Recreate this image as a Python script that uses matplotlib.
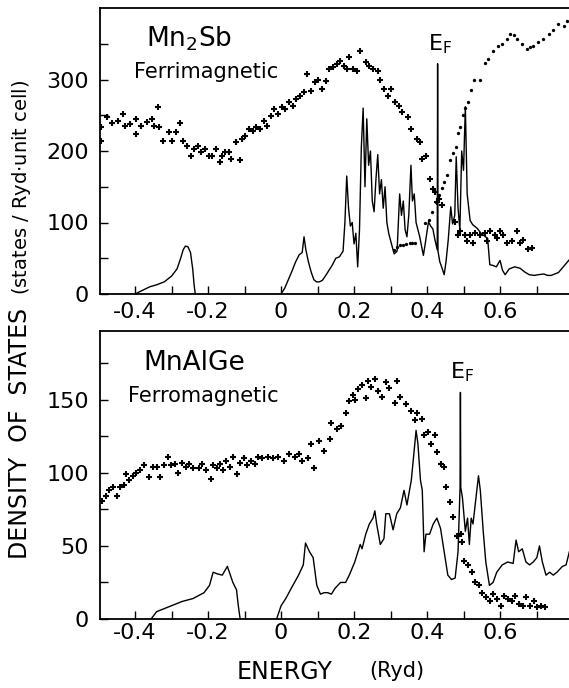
import numpy as np
import matplotlib
matplotlib.use('Agg')
import matplotlib.pyplot as plt

plt.rcParams['font.family'] = 'DejaVu Sans'
plt.rcParams['axes.unicode_minus'] = False

# ---- Mn2Sb (top panel) ----
mn2sb_line_a_x = [-0.40, -0.38, -0.36, -0.34, -0.32, -0.30, -0.285, -0.275, -0.268, -0.262,
                  -0.255, -0.248, -0.242, -0.238, -0.235]
mn2sb_line_a_y = [0, 5, 10, 13, 17, 25, 35, 50, 62, 67, 66, 58, 35, 12, 0]

mn2sb_line_b_x = [0.0, 0.01, 0.02, 0.03, 0.04, 0.05, 0.058, 0.063, 0.068, 0.075, 0.083, 0.09, 0.097,
                  0.105, 0.113, 0.12, 0.13, 0.14, 0.15, 0.16, 0.17, 0.175, 0.18, 0.185, 0.19, 0.195,
                  0.2, 0.205, 0.21, 0.215, 0.22, 0.225, 0.23, 0.235, 0.24, 0.245, 0.25, 0.255,
                  0.26, 0.265, 0.27, 0.275, 0.28, 0.285, 0.29, 0.295, 0.30, 0.31, 0.318, 0.325,
                  0.33, 0.335, 0.34, 0.345, 0.35, 0.356, 0.36, 0.365, 0.37, 0.375, 0.38, 0.39,
                  0.395, 0.404, 0.41, 0.416, 0.422, 0.428, 0.429, 0.430, 0.435, 0.44, 0.447,
                  0.452, 0.458, 0.465, 0.47, 0.476, 0.48, 0.485, 0.49, 0.495, 0.50, 0.505,
                  0.51, 0.518, 0.525, 0.537, 0.548, 0.56, 0.566, 0.572, 0.58, 0.59, 0.60, 0.607,
                  0.614, 0.625, 0.64, 0.655, 0.667, 0.68, 0.694, 0.705, 0.72, 0.73, 0.74, 0.75,
                  0.76, 0.77, 0.78, 0.79]
mn2sb_line_b_y = [0, 8, 20, 32, 45, 55, 58, 80, 62, 45, 30, 20, 17, 17, 19, 24, 32, 40, 50, 52,
                  60, 100, 165, 120, 95, 100, 70, 85, 38, 90, 205, 260, 150, 245, 180, 200, 130,
                  115, 160, 195, 140, 160, 120, 150, 100, 85, 75, 56, 60, 140, 110, 130, 90, 80,
                  110, 180, 130, 140, 100, 90, 80, 54, 70, 101, 95, 91, 75, 62, 322, 60, 45,
                  38, 27, 45, 75, 122, 98, 110, 192, 120, 90, 200, 173, 262, 140, 103, 97, 92,
                  85, 80, 78, 41, 40, 38, 47, 33, 27, 35, 38, 36, 31, 27, 26, 27, 28, 26, 26, 28,
                  30, 36, 42, 48]

mn2sb_cross_x = [-0.493, -0.493, -0.478, -0.463, -0.448, -0.433, -0.428, -0.413, -0.398, -0.398,
                 -0.383, -0.368, -0.353, -0.348, -0.338, -0.333, -0.323, -0.308, -0.298, -0.288,
                 -0.278, -0.268, -0.258, -0.248, -0.238, -0.228, -0.218, -0.208, -0.198, -0.188,
                 -0.178, -0.168, -0.163, -0.153, -0.143, -0.138, -0.123, -0.113, -0.108, -0.098,
                 -0.088, -0.078, -0.068, -0.058, -0.048, -0.038, -0.028, -0.018, -0.008, 0.002,
                 0.012, 0.022, 0.032, 0.042, 0.052, 0.062, 0.072, 0.082, 0.092, 0.102, 0.112,
                 0.122, 0.132, 0.142, 0.152, 0.162, 0.172, 0.182, 0.187, 0.197, 0.207, 0.217,
                 0.232, 0.242, 0.252, 0.267, 0.272, 0.282, 0.292, 0.302, 0.312, 0.322, 0.332,
                 0.347, 0.357, 0.372, 0.382, 0.387, 0.397, 0.407, 0.417, 0.422, 0.427, 0.432,
                 0.442, 0.477, 0.486, 0.49, 0.504, 0.509, 0.518, 0.527, 0.532, 0.545, 0.559,
                 0.563, 0.573, 0.586, 0.591, 0.60, 0.609, 0.618, 0.632, 0.646, 0.655, 0.664,
                 0.678, 0.687]
mn2sb_cross_y = [233, 214, 247, 239, 242, 252, 235, 238, 245, 224, 235, 240, 245, 235, 262, 233,
                 214, 226, 214, 226, 239, 214, 207, 193, 203, 207, 198, 203, 193, 193, 203, 184,
                 193, 198, 198, 189, 212, 188, 217, 221, 231, 228, 233, 231, 242, 235, 249, 259,
                 252, 261, 259, 268, 263, 273, 277, 282, 307, 284, 296, 300, 287, 298, 314, 317,
                 321, 326, 319, 314, 331, 314, 312, 340, 324, 319, 314, 312, 300, 287, 277, 287,
                 268, 263, 254, 247, 231, 217, 212, 189, 193, 161, 147, 142, 128, 133, 124,
                 101, 83, 88, 83, 74, 83, 72, 85, 83, 85, 74, 88, 83, 79, 88, 83, 72, 74, 88,
                 72, 76, 63, 65]

mn2sb_dot_x = [0.31, 0.317, 0.326, 0.335, 0.343, 0.352, 0.36, 0.368, 0.395, 0.406, 0.415, 0.424,
               0.433, 0.44, 0.447, 0.456, 0.463, 0.47, 0.48, 0.484, 0.491, 0.498, 0.504, 0.511,
               0.52, 0.53, 0.544, 0.559, 0.568, 0.582, 0.595, 0.605, 0.618, 0.628, 0.637, 0.646,
               0.66, 0.673, 0.682, 0.691, 0.705, 0.719, 0.733, 0.746, 0.76, 0.774, 0.783]
mn2sb_dot_y = [62, 66, 68, 68, 70, 71, 72, 72, 100, 103, 115, 129, 138, 148, 157, 166, 187, 197,
               206, 225, 234, 250, 260, 269, 286, 300, 300, 323, 328, 340, 347, 350, 357, 364,
               362, 357, 350, 343, 345, 347, 352, 357, 364, 369, 378, 375, 382]

# ---- MnAlGe (bottom panel) ----
mnalge_line_a_x = [-0.356, -0.341, -0.311, -0.271, -0.241, -0.211, -0.196, -0.186, -0.176,
                   -0.161, -0.147, -0.132, -0.122, -0.117, -0.112]
mnalge_line_a_y = [0, 5, 8, 12, 14, 18, 23, 32, 31, 30, 36, 25, 20, 9, 0]

mnalge_line_b_x = [-0.012, 0.0, 0.013, 0.028, 0.048, 0.061, 0.067, 0.078, 0.088, 0.098, 0.108,
                   0.118, 0.128, 0.138, 0.148, 0.163, 0.177, 0.187, 0.202, 0.217, 0.222, 0.232,
                   0.242, 0.252, 0.257, 0.262, 0.272, 0.282, 0.287, 0.297, 0.307, 0.317, 0.327,
                   0.337, 0.345, 0.352, 0.357, 0.362, 0.37, 0.375, 0.382, 0.387, 0.392, 0.397,
                   0.407, 0.417, 0.427, 0.437, 0.447, 0.457, 0.467, 0.477, 0.485, 0.4905, 0.4915,
                   0.4925, 0.497, 0.505, 0.511, 0.516, 0.521, 0.526, 0.531, 0.541, 0.546, 0.554,
                   0.561, 0.571, 0.581, 0.591, 0.606, 0.621, 0.636, 0.644, 0.651, 0.661, 0.671,
                   0.681, 0.691, 0.701, 0.708, 0.716, 0.726, 0.736, 0.746, 0.756, 0.771, 0.781,
                   0.79]
mnalge_line_b_y = [0, 9, 14, 21, 30, 37, 52, 46, 42, 23, 17, 18, 18, 17, 21, 25, 25, 30, 39, 51,
                   48, 58, 65, 69, 74, 65, 51, 55, 72, 72, 61, 72, 76, 88, 78, 88, 95, 108, 129,
                   120, 95, 88, 46, 58, 58, 65, 69, 62, 46, 30, 27, 28, 46, 90, 155, 90, 83, 60,
                   69, 51, 69, 65, 76, 98, 88, 60, 39, 23, 25, 32, 37, 39, 38, 54, 46, 48, 39, 37,
                   39, 42, 50, 39, 30, 32, 30, 32, 36, 37, 46]

mnalge_cross_x = [-0.49, -0.48, -0.47, -0.46, -0.45, -0.44, -0.43, -0.426, -0.416, -0.406,
                  -0.396, -0.386, -0.376, -0.361, -0.351, -0.341, -0.331, -0.321, -0.311, -0.301,
                  -0.291, -0.281, -0.271, -0.261, -0.251, -0.241, -0.226, -0.216, -0.206, -0.193,
                  -0.186, -0.176, -0.166, -0.159, -0.151, -0.141, -0.132, -0.122, -0.112, -0.102,
                  -0.092, -0.082, -0.072, -0.062, -0.052, -0.037, -0.022, -0.007, 0.008, 0.023,
                  0.038, 0.048, 0.058, 0.073, 0.083, 0.09, 0.103, 0.118, 0.133, 0.138, 0.153,
                  0.163, 0.177, 0.187, 0.197, 0.202, 0.212, 0.222, 0.232, 0.237, 0.247, 0.257,
                  0.267, 0.277, 0.287, 0.297, 0.312, 0.317, 0.327, 0.342, 0.357, 0.367, 0.372,
                  0.387, 0.392, 0.402, 0.412, 0.422, 0.427, 0.437, 0.447, 0.452, 0.462, 0.472,
                  0.482, 0.492, 0.497, 0.502, 0.512, 0.522, 0.532, 0.542, 0.552, 0.562, 0.572,
                  0.582, 0.592, 0.602, 0.612, 0.622, 0.632, 0.642, 0.652, 0.662, 0.672, 0.682,
                  0.692, 0.702, 0.712, 0.722]
mnalge_cross_y = [81, 84, 88, 90, 84, 90, 92, 99, 95, 98, 100, 102, 105, 97, 104, 104, 97, 105,
                  111, 105, 106, 100, 107, 104, 106, 103, 103, 106, 102, 96, 105, 103, 106, 102,
                  108, 104, 111, 99, 107, 110, 105, 108, 106, 111, 110, 111, 110, 111, 108, 113,
                  111, 113, 108, 110, 120, 103, 122, 115, 123, 134, 130, 132, 141, 149, 153, 150,
                  157, 160, 151, 163, 159, 164, 156, 152, 162, 158, 148, 163, 152, 147, 142, 136,
                  141, 137, 126, 128, 120, 126, 114, 106, 104, 90, 80, 70, 57, 58, 53, 40, 37,
                  32, 25, 23, 18, 15, 12, 17, 14, 9, 16, 14, 12, 16, 10, 9, 15, 9, 12, 8, 9, 8]

x_ticks = [-0.4, -0.3, -0.2, -0.1, 0.0, 0.1, 0.2, 0.3, 0.4, 0.5, 0.6, 0.7]
x_labels = ['-0.4', '', '-0.2', '', '0', '', '0.2', '', '0.4', '', '0.6', '']
top_yticks = [0, 50, 100, 150, 200, 250, 300, 350]
top_ylabels = ['0', '', '100', '', '200', '', '300', '']
bot_yticks = [0, 25, 50, 75, 100, 125, 150, 175]
bot_ylabels = ['0', '', '50', '', '100', '', '150', '']

W, H = 569, 688
fig = plt.figure(figsize=(W / 100, H / 100), dpi=100)

def px_axes(left, top, bottom):
    return fig.add_axes([left / W, (H - bottom) / H, (W - left) / W, (bottom - top) / H])

def style(ax, ylim, yt, yl, xpad):
    ax.set_xlim(-0.496, 0.789)
    ax.set_ylim(*ylim)
    ax.set_xticks(x_ticks)
    ax.set_xticklabels(x_labels)
    ax.set_yticks(yt)
    ax.set_yticklabels(yl)
    ax.tick_params(direction='in', length=6, width=1.0, labelsize=16, color='black')
    ax.tick_params(axis='x', pad=xpad)
    ax.tick_params(axis='y', pad=8)
    ax.spines['right'].set_visible(False)
    for s in ['left', 'top', 'bottom']:
        ax.spines[s].set_linewidth(1.3)

ax1 = px_axes(100, 8, 294)
style(ax1, (0, 400), top_yticks, top_ylabels, 6)
ax1.plot(mn2sb_line_a_x, mn2sb_line_a_y, color='black', lw=1.0)
ax1.plot(mn2sb_line_b_x, mn2sb_line_b_y, color='black', lw=1.0)
ax1.plot(mn2sb_cross_x, mn2sb_cross_y, '+', color='black', ms=4.5, mew=1.5)
ax1.plot(mn2sb_dot_x, mn2sb_dot_y, 'o', color='black', ms=2.4, mew=0)
ax1.text(0.098, 0.864, 'Mn$_2$Sb', transform=ax1.transAxes, fontsize=19, va='baseline')
ax1.text(0.072, 0.755, 'Ferrimagnetic', transform=ax1.transAxes, fontsize=15, va='baseline')
ax1.text(0.70, 0.85, r'E$_\mathrm{F}$', transform=ax1.transAxes, fontsize=16, va='baseline')

ax2 = px_axes(100, 331, 619)
style(ax2, (0, 197), bot_yticks, bot_ylabels, 3)
ax2.plot(mnalge_line_a_x, mnalge_line_a_y, color='black', lw=1.0)
ax2.plot(mnalge_line_b_x, mnalge_line_b_y, color='black', lw=1.0)
ax2.plot(mnalge_cross_x, mnalge_cross_y, '+', color='black', ms=4.5, mew=1.5)
ax2.text(0.092, 0.865, 'MnAlGe', transform=ax2.transAxes, fontsize=19, va='baseline')
ax2.text(0.06, 0.753, 'Ferromagnetic', transform=ax2.transAxes, fontsize=15, va='baseline')
ax2.text(0.746, 0.837, r'E$_\mathrm{F}$', transform=ax2.transAxes, fontsize=16, va='baseline')

fig.text(22 / W, 1 - 187 / H, '(states / Ryd$\\cdot$unit cell)', rotation=90,
         ha='center', va='center', fontsize=14)
fig.text(20 / W, 1 - 433 / H, 'DENSITY  OF  STATES', rotation=90,
         ha='center', va='center', fontsize=17)
fig.text(285 / W, 1 - 672 / H, 'ENERGY', ha='center', va='center', fontsize=17)
fig.text(397 / W, 1 - 671 / H, '(Ryd)', ha='center', va='center', fontsize=15)

fig.savefig('out.png', dpi=100, facecolor='white')
